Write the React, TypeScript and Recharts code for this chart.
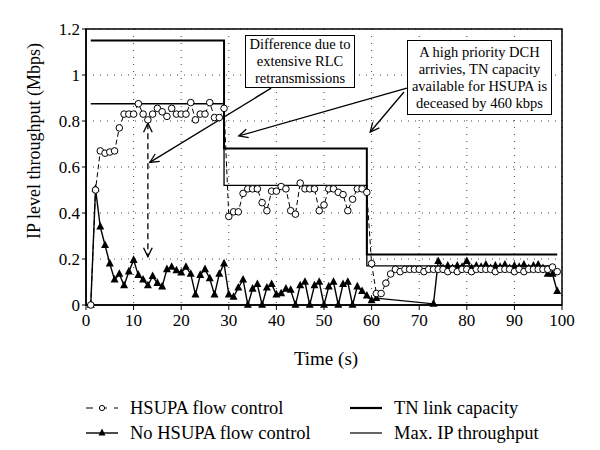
import React from "react";
import {
  LineChart,
  Line,
  XAxis,
  YAxis,
  CartesianGrid,
  ReferenceArea,
  ReferenceLine,
  Label,
} from "recharts";

const xTicks = [0, 10, 20, 30, 40, 50, 60, 70, 80, 90, 100];
const yTicks = [0, 0.2, 0.4, 0.6, 0.8, 1, 1.2];

// HSUPA flow control, one sample per second starting at t = 1
const hsupaStart = 1;
const hsupaValues = [
  0, 0.5, 0.67, 0.66, 0.665, 0.67, 0.77, 0.83, 0.83, 0.83,
  0.875, 0.83, 0.805, 0.83, 0.855, 0.84, 0.82, 0.855, 0.83, 0.83,
  0.83, 0.88, 0.805, 0.83, 0.83, 0.88, 0.815, 0.815, 0.855, 0.385,
  0.405, 0.405, 0.485, 0.505, 0.505, 0.505, 0.445, 0.41, 0.495, 0.495,
  0.515, 0.505, 0.41, 0.395, 0.53, 0.505, 0.505, 0.505, 0.41, 0.435,
  0.505, 0.505, 0.49, 0.48, 0.41, 0.46, 0.505, 0.505, 0.49, 0.18,
  0.05, 0.05, 0.095, 0.135, 0.155, 0.145, 0.155, 0.155, 0.155, 0.155,
  0.145, 0.155, 0.155, 0.155, 0.155, 0.145, 0.155, 0.145, 0.155, 0.155,
  0.145, 0.155, 0.155, 0.155, 0.155, 0.145, 0.155, 0.155, 0.155, 0.145,
  0.155, 0.145, 0.155, 0.155, 0.155, 0.155, 0.155, 0.165, 0.145,
];

// No HSUPA flow control: t = 1..61, then a gap, then t = 73..99
const noFcEarlyStart = 1;
const noFcEarly = [
  0, 0.505, 0.34, 0.26, 0.18, 0.11, 0.135, 0.085, 0.145, 0.195,
  0.13, 0.11, 0.085, 0.125, 0.095, 0.08, 0.155, 0.165, 0.15, 0.14,
  0.165, 0.135, 0.045, 0.13, 0.155, 0.115, 0.045, 0.135, 0.18, 0.045,
  0.035, 0.075, 0.11, 0, 0.07, 0.09, 0, 0.075, 0.09, 0.045,
  0.05, 0.07, 0.065, 0, 0.085, 0.1, 0, 0.085, 0.1, 0,
  0.08, 0.1, 0, 0.09, 0.1, 0, 0.08, 0.06, 0.04, 0.02,
  0.03,
];
const noFcLateStart = 73;
const noFcLate = [
  0.005, 0.19, 0.16, 0.17, 0.16, 0.17, 0.165, 0.19, 0.16, 0.17,
  0.165, 0.175, 0.16, 0.17, 0.165, 0.175, 0.16, 0.17, 0.165, 0.175,
  0.16, 0.17, 0.175, 0.16, 0.135, 0.135, 0.06,
];

// step lines
const tnTimes = [1, 29, 29, 59, 59, 99];
const tnValues = [1.15, 1.15, 0.68, 0.68, 0.22, 0.22];
const maxIpTimes = [1, 29, 29, 59, 59, 98];
const maxIpValues = [0.875, 0.875, 0.52, 0.52, 0.17, 0.17];

const hsupaData = hsupaValues.map((v, i) => ({ t: hsupaStart + i, v }));
const noFcData = [
  ...noFcEarly.map((v, i) => ({ t: noFcEarlyStart + i, v })),
  ...noFcLate.map((v, i) => ({ t: noFcLateStart + i, v })),
];
const tnData = tnTimes.map((t, i) => ({ t, v: tnValues[i] }));
const maxIpData = maxIpTimes.map((t, i) => ({ t, v: maxIpValues[i] }));

const FONT = '"Liberation Serif", "Times New Roman", serif';

const CircleDot = (p: any) => (
  <circle key={`c-${p.index}`} cx={p.cx} cy={p.cy} r={3.3} fill="#fff" stroke="#000" strokeWidth={1} />
);

const TriangleDot = (p: any) => {
  const { cx, cy } = p;
  const s = 4;
  return (
    <polygon
      key={`t-${p.index}`}
      points={`${cx},${cy - s * 1.2} ${cx - s},${cy + s * 0.7} ${cx + s},${cy + s * 0.7}`}
      fill="#000"
    />
  );
};

const head = (hx: number, hy: number, fx: number, fy: number, k: string) => {
  const a = Math.atan2(hy - fy, hx - fx);
  const L = 10;
  const w = 0.45;
  return (
    <path
      key={k}
      d={`M${hx - L * Math.cos(a - w)},${hy - L * Math.sin(a - w)} L${hx},${hy} L${hx - L * Math.cos(a + w)},${hy - L * Math.sin(a + w)}`}
      fill="none"
      stroke="#000"
      strokeWidth={1.3}
    />
  );
};

const arrow = (both: boolean, dashed: boolean) => (p: any) => {
  const { x1, y1, x2, y2 } = p;
  return (
    <g>
      <line x1={x1} y1={y1} x2={x2} y2={y2} stroke="#000" strokeWidth={1.3} strokeDasharray={dashed ? "6 4" : undefined} />
      {head(x2, y2, x1, y1, "h2")}
      {both && head(x1, y1, x2, y2, "h1")}
    </g>
  );
};

const LegendIcon = ({ kind }: { kind: string }) => (
  <svg width={32} height={12} style={{ marginRight: 12 }}>
    {kind === "hsupa" && (
      <g>
        <line x1={0} y1={6} x2={32} y2={6} stroke="#000" strokeWidth={1} strokeDasharray="7 7" />
        <circle cx={16} cy={6} r={2.6} fill="#fff" stroke="#000" strokeWidth={1} />
      </g>
    )}
    {kind === "nofc" && (
      <g>
        <line x1={0} y1={6} x2={32} y2={6} stroke="#000" strokeWidth={1.4} />
        <polygon points="16,1.5 12.5,8.5 19.5,8.5" fill="#000" />
      </g>
    )}
    {kind === "tn" && <line x1={0} y1={6} x2={32} y2={6} stroke="#000" strokeWidth={2.2} />}
    {kind === "max" && <line x1={0} y1={6} x2={32} y2={6} stroke="#000" strokeWidth={1.2} />}
  </svg>
);

const legendItems = [
  { kind: "hsupa", text: "HSUPA flow control", left: 86, top: 396 },
  { kind: "nofc", text: "No HSUPA flow control", left: 86, top: 421 },
  { kind: "tn", text: "TN link capacity", left: 350, top: 396 },
  { kind: "max", text: "Max. IP throughput", left: 350, top: 421 },
];

const boxStyle: React.CSSProperties = {
  position: "absolute",
  border: "1.5px solid #000",
  background: "#fff",
  boxSizing: "border-box",
  display: "flex",
  alignItems: "center",
  justifyContent: "center",
  textAlign: "center",
  fontSize: 14.5,
  lineHeight: "17px",
};

export default function App() {
  return (
    <div
      style={{
        position: "absolute",
        left: 0,
        top: 0,
        width: 600,
        height: 450,
        background: "#fff",
        fontFamily: FONT,
        color: "#000",
      }}
    >
      <LineChart width={600} height={450} margin={{ top: 29, right: 38, left: 0, bottom: 83 }}>
        <CartesianGrid stroke="#444" strokeDasharray="1 6" />
        <XAxis
          dataKey="t"
          type="number"
          domain={[0, 100]}
          ticks={xTicks}
          height={62}
          tickSize={5}
          tickMargin={4}
          axisLine={{ stroke: "#000", strokeWidth: 1.5 }}
          tickLine={{ stroke: "#000" }}
          tick={{ fontSize: 17, fill: "#000", fontFamily: FONT }}
        >
          <Label
            content={() => (
              <text x={326} y={358} textAnchor="middle" dominantBaseline="central" fontSize={19} fontFamily={FONT} fill="#000">
                Time (s)
              </text>
            )}
          />
        </XAxis>
        <YAxis
          type="number"
          domain={[0, 1.2]}
          ticks={yTicks}
          width={86}
          tickSize={4}
          tickMargin={2}
          axisLine={{ stroke: "#000", strokeWidth: 1.5 }}
          tickLine={{ stroke: "#000" }}
          tick={{ fontSize: 17, fill: "#000", fontFamily: FONT }}
        >
          <Label
            content={() => (
              <text
                x={34}
                y={141}
                transform="rotate(-90 34 141)"
                textAnchor="middle"
                dominantBaseline="central"
                fontSize={18}
                fontFamily={FONT}
                fill="#000"
              >
                IP level throughput (Mbps)
              </text>
            )}
          />
        </YAxis>
        <ReferenceArea x1={0} x2={100} y1={0} y2={1.2} fill="none" stroke="#000" strokeWidth={1.5} ifOverflow="visible" />
        <Line data={tnData} dataKey="v" stroke="#000" strokeWidth={2} dot={false} isAnimationActive={false} />
        <Line data={maxIpData} dataKey="v" stroke="#000" strokeWidth={1.3} dot={false} isAnimationActive={false} />
        <Line
          data={noFcData}
          dataKey="v"
          stroke="#000"
          strokeWidth={1.4}
          dot={TriangleDot}
          isAnimationActive={false}
        />
        <Line
          data={hsupaData}
          dataKey="v"
          stroke="#000"
          strokeWidth={1}
          strokeDasharray="5 3"
          dot={CircleDot}
          isAnimationActive={false}
        />
        <ReferenceLine segment={[{ x: 13, y: 0.79 }, { x: 13, y: 0.21 }]} shape={arrow(true, true)} />
        <ReferenceLine segment={[{ x: 38.9, y: 0.943 }, { x: 13.4, y: 0.62 }]} shape={arrow(false, false)} />
        <ReferenceLine segment={[{ x: 67.4, y: 0.943 }, { x: 32.1, y: 0.735 }]} shape={arrow(false, false)} />
        <ReferenceLine segment={[{ x: 66.8, y: 0.926 }, { x: 59.7, y: 0.752 }]} shape={arrow(false, false)} />
      </LineChart>

      <div style={{ ...boxStyle, left: 245, top: 35, width: 110, height: 53 }}>
        Difference due to
        <br />
        extensive RLC
        <br />
        retransmissions
      </div>
      <div style={{ ...boxStyle, left: 407, top: 40, width: 145, height: 75 }}>
        A high priority DCH
        <br />
        arrivies, TN capacity
        <br />
        available for HSUPA is
        <br />
        deceased by 460 kbps
      </div>

      {legendItems.map((it) => (
        <div
          key={it.text}
          style={{
            position: "absolute",
            left: it.left,
            top: it.top,
            height: 24,
            display: "flex",
            alignItems: "center",
            fontSize: 18.5,
            whiteSpace: "nowrap",
          }}
        >
          <LegendIcon kind={it.kind} />
          {it.text}
        </div>
      ))}
    </div>
  );
}
